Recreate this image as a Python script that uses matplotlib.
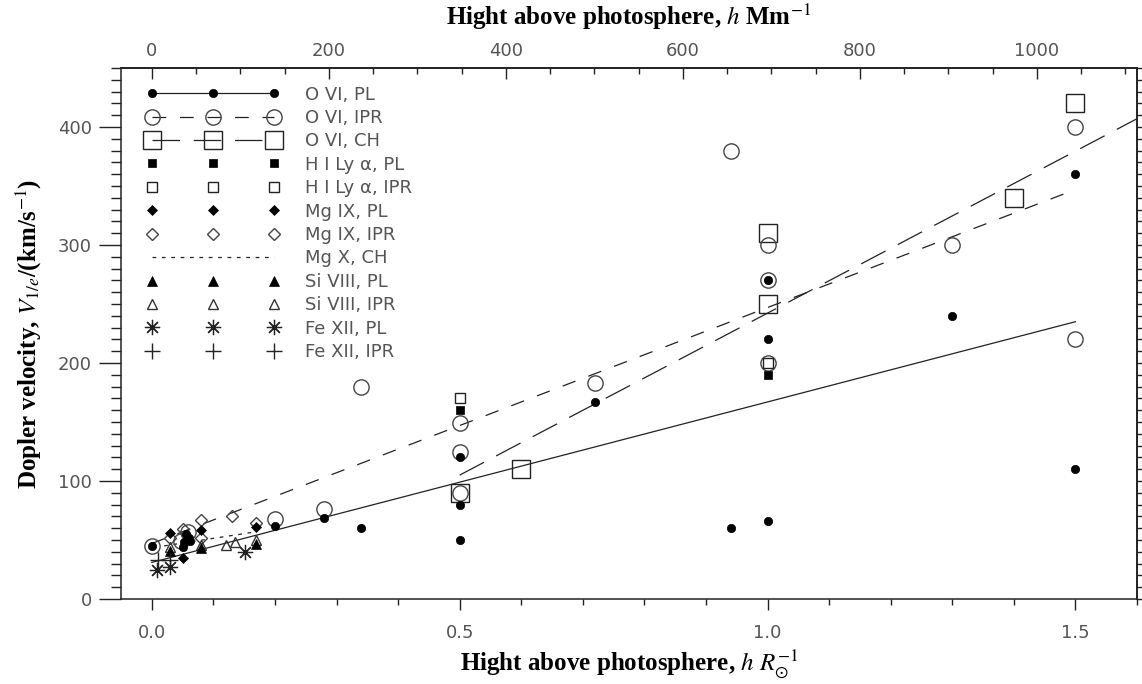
import numpy as np
import matplotlib
matplotlib.use("Agg")
import matplotlib.pyplot as plt
from matplotlib.lines import Line2D
from matplotlib.ticker import MultipleLocator

plt.rcParams['mathtext.fontset'] = 'stix'

# ---------------- data ----------------
ovi_pl_x = [0.0, 0.05, 0.052, 0.056, 0.06, 0.062, 0.2, 0.28, 0.34, 0.5, 0.5, 0.5, 0.72, 0.94, 1.0, 1.0, 1.0, 1.3, 1.5, 1.5]
ovi_pl_y = [45, 44, 48, 55, 52, 49, 62, 69, 60, 120, 80, 50, 167, 60, 270, 220, 66, 240, 360, 110]

ovi_ipr_x = [0.0, 0.048, 0.058, 0.2, 0.28, 0.34, 0.5, 0.5, 0.5, 0.72, 0.94, 1.0, 1.0, 1.0, 1.3, 1.5, 1.5]
ovi_ipr_y = [45, 49, 57, 68, 76, 180, 149, 125, 90, 183, 380, 300, 270, 200, 300, 400, 220]

ovi_ch_x = [0.5, 0.6, 1.0, 1.0, 1.4, 1.5]
ovi_ch_y = [90, 110, 310, 250, 340, 420]

hi_pl_x = [0.5, 1.0]
hi_pl_y = [160, 190]
hi_ipr_x = [0.5, 1.0]
hi_ipr_y = [170, 200]

mgix_pl_x = [0.03, 0.05, 0.08, 0.17]
mgix_pl_y = [56, 35, 58.5, 61]
mgix_ipr_x = [0.03, 0.05, 0.08, 0.08, 0.13, 0.17]
mgix_ipr_y = [52, 59, 67, 52, 70, 64]

mgx_ch_x = [0.02, 0.17]
mgx_ch_y = [45, 57]

sivIII_pl_x = [0.03, 0.08, 0.17]
sivIII_pl_y = [41, 43, 47]
sivIII_ipr_x = [0.03, 0.08, 0.12, 0.135, 0.17]
sivIII_ipr_y = [44, 46, 46, 48, 50]

fexii_pl_x = [0.008, 0.03, 0.151]
fexii_pl_y = [24.6, 27.4, 40]
fexii_ipr_x = [0.01, 0.03]
fexii_ipr_y = [33, 33]

# fitted lines
fit_pl_x = [0.0, 1.5]
fit_pl_y = [31, 235]
fit_ipr_x = [0.0, 1.5]
fit_ipr_y = [47, 347]
fit_ch_x = [0.5, 1.6]
fit_ch_y = [105, 407]

legend_labels = ['O VI, PL', 'O VI, IPR', 'O VI, CH', 'H I Ly α, PL', 'H I Ly α, IPR',
                 'Mg IX, PL', 'Mg IX, IPR', 'Mg X, CH', 'Si VIII, PL', 'Si VIII, IPR',
                 'Fe XII, PL', 'Fe XII, IPR']

xticks = [0.0, 0.5, 1.0, 1.5]
xticklabels = ['0.0', '0.5', '1.0', '1.5']
yticks = [0, 100, 200, 300, 400]
top_ticks = [0, 200, 400, 600, 800, 1000]
RSUN_MM = 695.7

# ---------------- figure ----------------
W, H = 1142, 684
fig = plt.figure(figsize=(W / 100, H / 100), dpi=100)
L, R, T, B = 121, 1137, 68, 599
ax = fig.add_axes([L / W, 1 - B / H, (R - L) / W, (B - T) / H])
ax.set_xlim(-0.05, 1.6)
ax.set_ylim(0, 450)

lc = '#222222'
tick_col = '#555555'
tfs = 13

ls_ipr = (0, (11, 11))
ls_ch = (0, (22, 11))
ls_mgx = (0, (3, 4.5))

# fits
ax.plot(fit_pl_x, fit_pl_y, color=lc, lw=0.9, ls='-')
ax.plot(fit_ipr_x, fit_ipr_y, color=lc, lw=0.9, ls=ls_ipr)
ax.plot(fit_ch_x, fit_ch_y, color=lc, lw=0.9, ls=ls_ch)
ax.plot(mgx_ch_x, mgx_ch_y, color=lc, lw=0.9, ls=ls_mgx)

styles = {
    'ovi_ch': dict(marker='s', ms=13, mfc='none', mec=lc, mew=1.0),
    'ovi_ipr': dict(marker='o', ms=11, mfc='none', mec='#444444', mew=1.0),
    'hi_ipr': dict(marker='s', ms=6.5, mfc='none', mec=lc, mew=1.0),
    'mgix_ipr': dict(marker='D', ms=6, mfc='none', mec='#444444', mew=1.0),
    'si_ipr': dict(marker='^', ms=7.5, mfc='none', mec='#333333', mew=1.0),
    'ovi_pl': dict(marker='o', ms=6, mfc='black', mec='black', mew=0.5),
    'hi_pl': dict(marker='s', ms=6, mfc='black', mec='black', mew=0.5),
    'mgix_pl': dict(marker='D', ms=5, mfc='black', mec='black', mew=0.5),
    'si_pl': dict(marker='^', ms=7, mfc='black', mec='black', mew=0.5),
    'fe_pl': dict(marker=(8, 2, 0), ms=11, mfc='black', mec='#222222', mew=0.9),
    'fe_ipr': dict(marker='+', ms=12, mfc='black', mec='#222222', mew=1.0),
}

series = [
    ('ovi_ch', ovi_ch_x, ovi_ch_y),
    ('ovi_ipr', ovi_ipr_x, ovi_ipr_y),
    ('hi_ipr', hi_ipr_x, hi_ipr_y),
    ('mgix_ipr', mgix_ipr_x, mgix_ipr_y),
    ('si_ipr', sivIII_ipr_x, sivIII_ipr_y),
    ('ovi_pl', ovi_pl_x, ovi_pl_y),
    ('hi_pl', hi_pl_x, hi_pl_y),
    ('mgix_pl', mgix_pl_x, mgix_pl_y),
    ('si_pl', sivIII_pl_x, sivIII_pl_y),
    ('fe_pl', fexii_pl_x, fexii_pl_y),
    ('fe_ipr', fexii_ipr_x, fexii_ipr_y),
]
for key, xs, ys in series:
    ax.plot(xs, ys, ls='none', **styles[key])

# legend handles (style proxies)
handles = [
    Line2D([], [], color=lc, lw=0.9, ls='-', **styles['ovi_pl']),
    Line2D([], [], color=lc, lw=0.9, ls=ls_ipr, **styles['ovi_ipr']),
    Line2D([], [], color=lc, lw=0.9, ls=ls_ch, **styles['ovi_ch']),
    Line2D([], [], ls='none', **styles['hi_pl']),
    Line2D([], [], ls='none', **styles['hi_ipr']),
    Line2D([], [], ls='none', **styles['mgix_pl']),
    Line2D([], [], ls='none', **styles['mgix_ipr']),
    Line2D([], [], color=lc, lw=0.9, ls=ls_mgx),
    Line2D([], [], ls='none', **styles['si_pl']),
    Line2D([], [], ls='none', **styles['si_ipr']),
    Line2D([], [], ls='none', **styles['fe_pl']),
    Line2D([], [], ls='none', **styles['fe_ipr']),
]
leg = ax.legend(handles, legend_labels, loc='upper left', numpoints=3,
                bbox_to_anchor=(0.0252, 0.967), frameon=False,
                fontsize=tfs, handlelength=7.35, handletextpad=1.42,
                labelspacing=0.30, borderpad=0, borderaxespad=0)
for t in leg.get_texts():
    t.set_color(tick_col)

# ticks
ax.set_xticks(xticks)
ax.set_xticklabels(xticklabels)
ax.xaxis.set_minor_locator(MultipleLocator(0.1))
ax.set_yticks(yticks)
ax.yaxis.set_minor_locator(MultipleLocator(10))
ax.tick_params(axis='x', which='major', direction='out', length=8, width=1.0,
               pad=10, labelsize=tfs, labelcolor=tick_col, color=lc)
ax.tick_params(axis='x', which='minor', direction='out', length=4.5, width=1.0, color=lc)
ax.tick_params(axis='y', which='major', direction='out', length=16, width=1.0,
               pad=5, labelsize=tfs, labelcolor=tick_col, color=lc)
ax.tick_params(axis='y', which='minor', direction='out', length=7.5, width=1.0, color=lc)
ax.tick_params(top=False, right=False)
for s in ax.spines.values():
    s.set_linewidth(1.1)
    s.set_color(lc)

sec = ax.secondary_xaxis('top', functions=(lambda x: x * RSUN_MM, lambda m: m / RSUN_MM))
sec.set_xticks(top_ticks)
sec.xaxis.set_minor_locator(MultipleLocator(50))
sec.tick_params(axis='x', which='major', direction='in', length=8, width=1.0,
                pad=6, labelsize=tfs, labelcolor=tick_col, color=lc)
sec.tick_params(axis='x', which='minor', direction='in', length=4, width=1.0, color=lc)
sec.spines['top'].set_linewidth(1.1)

secy = ax.secondary_yaxis('right')
secy.set_yticks(yticks)
secy.yaxis.set_minor_locator(MultipleLocator(10))
secy.tick_params(axis='y', which='major', direction='out', length=7, width=1.0,
                 labelright=False, color=lc)
secy.tick_params(axis='y', which='minor', direction='out', length=3.5, width=1.0, color=lc)
secy.spines['right'].set_linewidth(1.1)

lab = dict(fontfamily='Liberation Serif', fontweight='bold', fontsize=18, color='black')
ax.set_xlabel(r'Hight above photosphere, $h$ $R_{\odot}^{-1}$', labelpad=4, **lab)
sec.set_xlabel(r'Hight above photosphere, $h$ Mm$^{-1}$', labelpad=12, **lab)
ax.set_ylabel(r'Dopler velocity, $V_{1/e}$/(km/s$^{-1}$)', labelpad=10, **lab)

fig.savefig('out.png', dpi=100)
